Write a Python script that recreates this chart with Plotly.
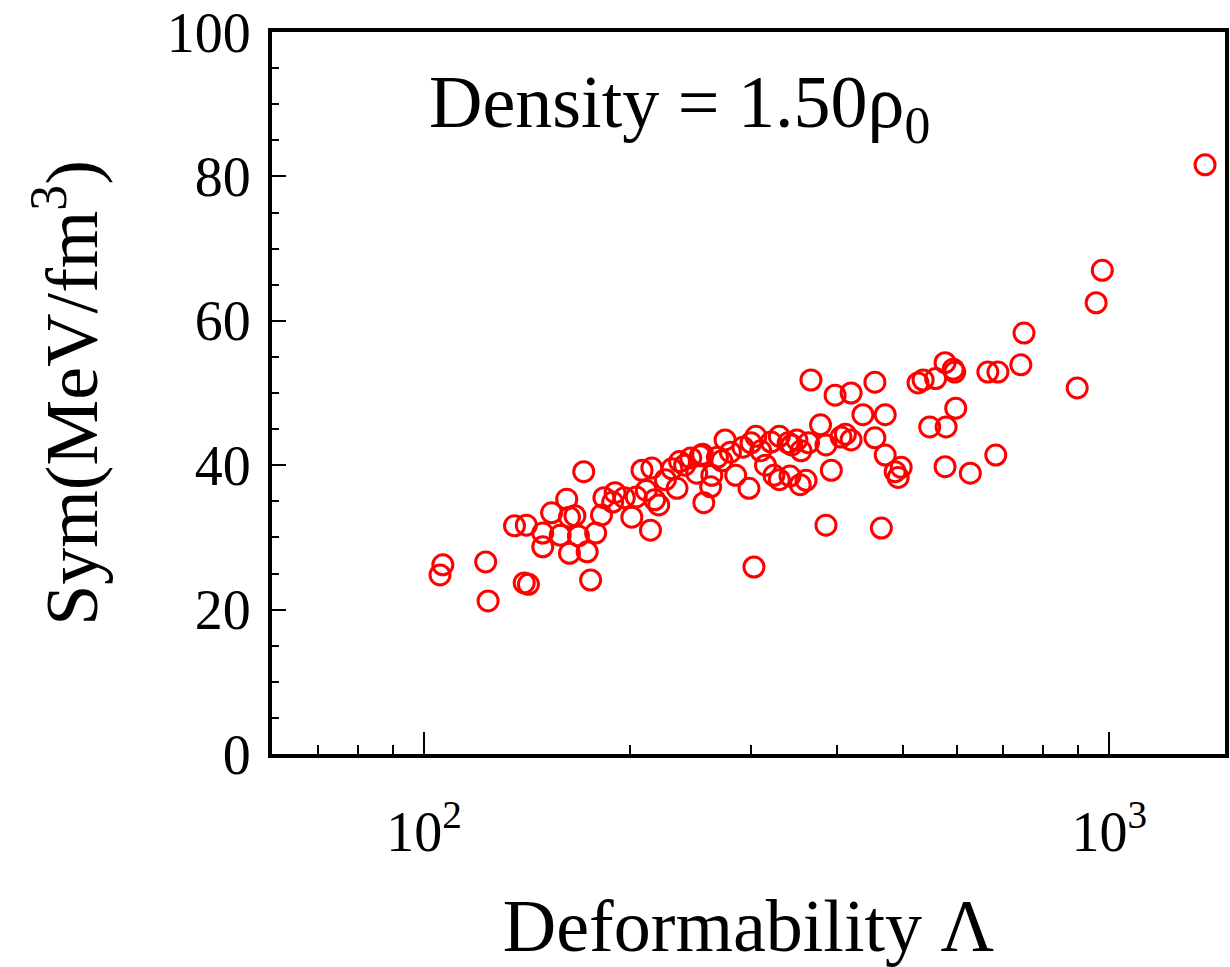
import plotly.graph_objects as go

# Deformability (Lambda) and symmetry energy values
lam = [105.5, 106.5, 123, 124, 140, 142, 135.5, 141, 171, 175, 149, 149, 153.5, 161.5,
       163, 168, 163, 173, 181.5, 188.5, 178, 158, 166,
       204, 217, 208, 215, 201, 214, 196, 211, 220, 225, 234, 245, 250, 263, 256, 285,
       300, 321, 340, 324, 298, 330, 236, 253, 272, 280, 292, 305, 310, 315, 330, 350,
       355, 303, 342, 183, 190, 230, 268, 255, 275, 262, 240,
       367, 398, 420, 455, 437, 471, 379, 406, 386, 364, 344, 393, 354, 361, 455, 471,
       487, 497, 386, 465, 526, 535, 576, 595, 665, 688, 743, 751, 597, 547, 578, 576,
       627, 683, 898, 957, 977, 1380, 412, 420, 558, 592, 492]
sym = [24.8, 26.2, 26.6, 21.2, 23.7, 23.5, 31.6, 31.7, 39.1, 24.1, 30.6, 28.7, 33.4, 35.3,
       32.8, 30.2, 27.8, 28.0, 33.1, 34.9, 30.6, 30.3, 33.0,
       35.6, 35.2, 39.3, 39.6, 32.8, 31.0, 35.5, 36.5, 34.5, 38.0, 36.8, 41.0, 38.9, 38.6,
       34.8, 38.6, 43.1, 43.2, 43.1, 38.6, 36.8, 38.0, 40.5, 41.3, 40.6, 41.8, 42.5, 44.0,
       42.0, 40.0, 44.0, 43.5, 42.0, 25.9, 38.5, 35.5, 36.2, 39.5, 41.1, 41.5, 43.5, 37.0,
       40.0,
       51.8, 49.7, 50.0, 51.5, 47.0, 47.0, 45.6, 43.9, 42.8, 43.1, 42.8, 39.3, 37.3, 37.9,
       43.8, 41.4, 39.1, 39.7, 31.7, 31.3, 51.4, 51.8, 54.2, 52.9, 52.9, 52.9, 53.9, 58.3,
       47.9, 45.3, 45.3, 39.8, 38.9, 41.4, 50.7, 62.5, 67.0, 81.6, 44.3, 43.5, 52.0, 53.3,
       38.3]

x_major = [100, 1000]
x_major_text = ["10<sup>2</sup>", "10<sup>3</sup>"]
x_minor = [60, 70, 80, 90, 200, 300, 400, 500, 600, 700, 800, 900]
y_ticks = [0, 20, 40, 60, 80, 100]

font_family = "Liberation Serif"

fig = go.Figure()
fig.add_trace(go.Scatter(
    x=lam, y=sym, mode="markers",
    marker=dict(symbol="circle-open", size=20, color="#ff0000",
                line=dict(width=3, color="#ff0000")),
    showlegend=False,
))

fig.update_layout(
    width=1230, height=967,
    margin=dict(l=272, r=1, t=32, b=213),
    paper_bgcolor="white", plot_bgcolor="white",
    font=dict(family=font_family, color="black", size=56),
    xaxis=dict(
        type="log", range=[1.778, 3.169],
        tickmode="array", tickvals=x_major, ticktext=x_major_text,
        ticks="inside", ticklen=22, tickwidth=2, tickcolor="black",
        minor=dict(tickmode="array", tickvals=x_minor, ticks="inside",
                   ticklen=9, tickwidth=2, tickcolor="black"),
        showline=True, linecolor="black", linewidth=4, mirror=True,
        showgrid=False, zeroline=False,
        tickfont=dict(size=56, family=font_family),
        ticklabelstandoff=26,
        title=dict(text="Deformability Λ", font=dict(size=74, family=font_family),
                   standoff=38),
    ),
    yaxis=dict(
        range=[0, 100],
        tickmode="array", tickvals=y_ticks,
        ticks="inside", ticklen=14, tickwidth=2, tickcolor="black",
        minor=dict(dtick=5, ticks="inside", ticklen=7, tickwidth=2, tickcolor="black"),
        showline=True, linecolor="black", linewidth=4, mirror=True,
        showgrid=False, zeroline=False,
        tickfont=dict(size=56, family=font_family),
        ticklabelstandoff=6,
        title=dict(text="Sym(MeV/fm<sup>3</sup>)", font=dict(size=74, family=font_family),
                   standoff=46),
    ),
    annotations=[dict(
        text="Density = 1.50ρ<sub>0</sub>",
        xref="paper", yref="paper", x=0.163, y=0.895, xanchor="left", yanchor="middle",
        showarrow=False, font=dict(size=74, family=font_family, color="black"),
    )],
)

fig.write_html("out.html")
